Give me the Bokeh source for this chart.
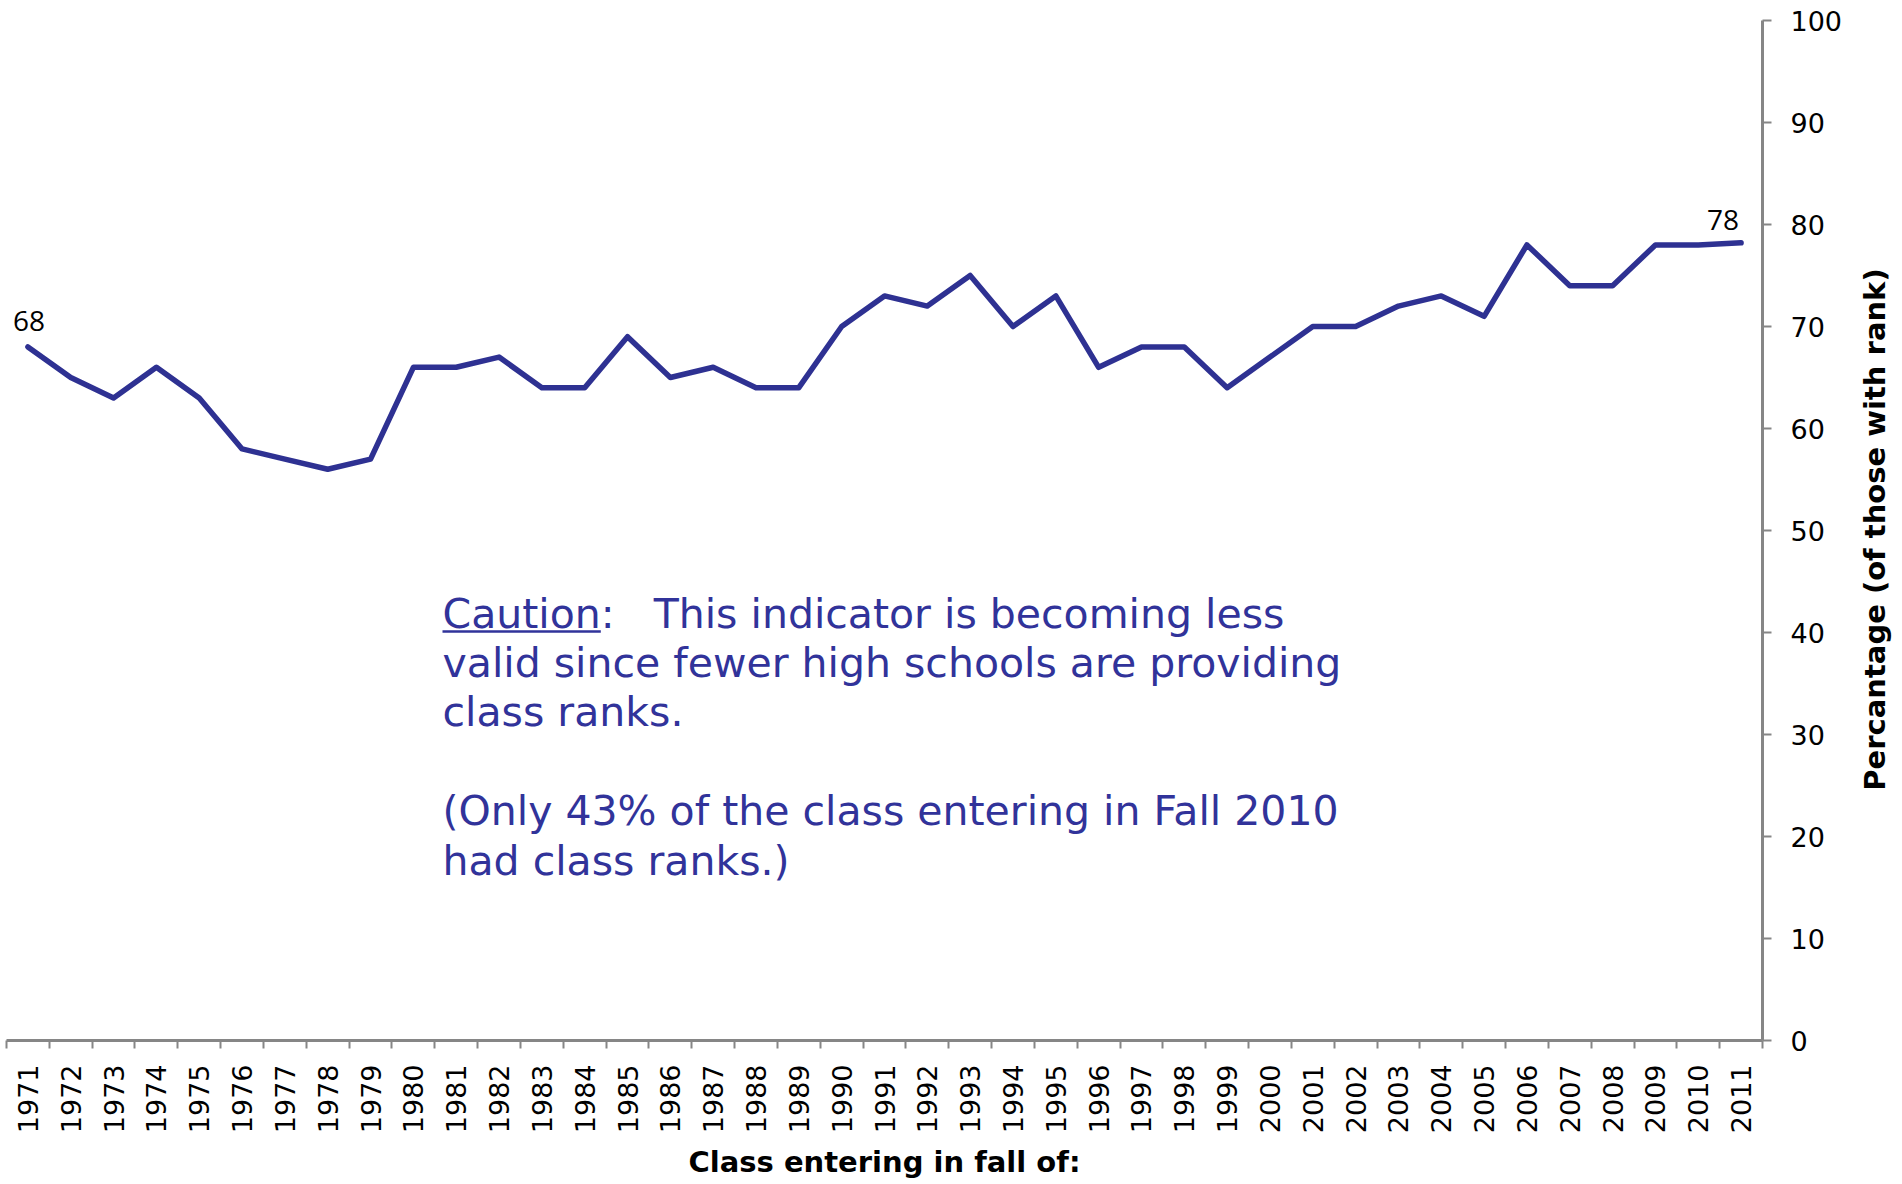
import math
from bokeh.plotting import figure
from bokeh.layouts import row
from bokeh.models import Range1d, FixedTicker, Label, Arrow
from bokeh.core.properties import value
from bokeh.embed import file_html
from bokeh.resources import INLINE

# ---------------- data ----------------
years = list(range(1971, 2012))
pct = [68, 65, 63, 66, 63, 58, 57, 56, 57, 66,
       66, 67, 64, 64, 69, 65, 66, 64, 64, 70,
       73, 72, 75, 70, 73, 66, 68, 68, 64, 67,
       70, 70, 72, 73, 71, 78, 74, 74, 78, 78,
       78.2]
year_labels = [str(y) for y in years]
y_ticks = [0, 10, 20, 30, 40, 50, 60, 70, 80, 90, 100]
x_title = "Class entering in fall of:"
y_title = "Percantage (of those with rank)"
NB = "\u00a0"
caution_lines = [
    "Caution:" + NB * 3 + "This indicator is becoming less",
    "valid since fewer high schools are providing",
    "class ranks.",
    NB,
    "(Only 43% of the class entering in Fall 2010",
    "had class ranks.)",
]

# ---------------- layout ----------------
FRAME_W, FRAME_H = 1756, 1020
B_LEFT, B_TOP, B_RIGHT, B_BOTTOM = 6, 20, 90, 140
TITLE_W = 44
GRAY = "#868686"
BLUE = "#2E3192"
TEXT_BLUE = "#31339A"

x0, x1 = years[0] - 0.5, years[-1] + 0.5
p = figure(frame_width=FRAME_W, frame_height=FRAME_H,
           x_range=Range1d(x0, x1), y_range=Range1d(y_ticks[0], y_ticks[-1]),
           y_axis_location="right",
           output_backend="svg", toolbar_location=None,
           min_border_left=B_LEFT, min_border_top=B_TOP,
           min_border_right=B_RIGHT, min_border_bottom=B_BOTTOM,
           background_fill_color="white", border_fill_color="white")
p.outline_line_color = None
p.xgrid.visible = False
p.ygrid.visible = False

px_per_x = FRAME_W / (x1 - x0)
px_per_y = FRAME_H / (y_ticks[-1] - y_ticks[0])

# x axis: labels at category centres, tick marks between categories
xa = p.xaxis[0]
boundaries = [y - 0.5 for y in years] + [years[-1] + 0.5]
xa.ticker = FixedTicker(ticks=years, minor_ticks=boundaries)
xa.major_label_overrides = {y: lab for y, lab in zip(years, year_labels)}
xa.major_tick_out = 0
xa.major_tick_in = 0
xa.minor_tick_out = 8
xa.minor_tick_in = 0
xa.minor_tick_line_color = GRAY
xa.minor_tick_line_width = 2
xa.axis_line_color = GRAY
xa.axis_line_width = 3
xa.major_label_orientation = math.pi / 2
xa.major_label_text_font = "DejaVu Sans"
xa.major_label_text_font_size = "27px"
xa.major_label_text_color = "black"
xa.major_label_standoff = 16
xa.axis_label = x_title
xa.axis_label_text_font = "DejaVu Sans"
xa.axis_label_text_font_style = "bold"
xa.axis_label_text_font_size = "29px"
xa.axis_label_text_color = "black"
xa.axis_label_standoff = 9

# y axis on the right
ya = p.yaxis[0]
ya.ticker = FixedTicker(ticks=y_ticks)
ya.major_tick_out = 9
ya.major_tick_in = 0
ya.major_tick_line_color = GRAY
ya.major_tick_line_width = 2
ya.minor_tick_line_color = None
ya.axis_line_color = GRAY
ya.axis_line_width = 3
ya.major_label_text_font = "DejaVu Sans"
ya.major_label_text_font_size = "27px"
ya.major_label_text_color = "black"
ya.major_label_standoff = 19

# the series
p.line(years, pct, line_color=BLUE, line_width=5.5, line_join="round", line_cap="round")

# data labels at first and last points
p.add_layout(Label(x=years[0], y=pct[0], text=f"{pct[0]:.0f}",
                   text_font="Open Sans", text_font_size="28px", text_color="black",
                   text_align="center", text_baseline="alphabetic",
                   x_offset=1, y_offset=26))
p.add_layout(Label(x=years[-1], y=pct[-1], text=f"{pct[-1]:.0f}",
                   text_font="Open Sans", text_font_size="28px", text_color="black",
                   text_align="center", text_baseline="alphabetic",
                   x_offset=-18, y_offset=23))

# caution note
CAUTION_FONT = 41
CAUTION_LINE_H = 1.03
CAUTION_LEFT_PX = 436       # from frame left
CAUTION_TOP_PX = 569        # from frame top
cx = x0 + CAUTION_LEFT_PX / px_per_x
cy = y_ticks[-1] - CAUTION_TOP_PX / px_per_y
p.add_layout(Label(x=cx, y=cy, text="\n".join(caution_lines),
                   text_font="DejaVu Sans", text_font_size=f"{CAUTION_FONT}px",
                   text_color=TEXT_BLUE, text_align="left", text_baseline="top",
                   text_line_height=CAUTION_LINE_H))

# underline under the word "Caution" (DejaVu Sans advance ~3.861 em)
ul_w = 3.861 * CAUTION_FONT / px_per_x
ul_y = y_ticks[-1] - (CAUTION_TOP_PX + 42) / px_per_y
p.add_layout(Arrow(end=None, start=None, x_start=cx, y_start=ul_y, x_end=cx + ul_w, y_end=ul_y,
                   line_color=TEXT_BLUE, line_width=2.5))

# y axis title in a narrow companion panel to the right, reading bottom-to-top
pt = figure(width=TITLE_W, height=B_TOP + FRAME_H + B_BOTTOM,
            x_range=Range1d(-1, 1), y_range=Range1d(-1, 1),
            x_axis_location=None, y_axis_location=None,
            output_backend="svg", toolbar_location=None,
            min_border_left=0, min_border_right=0,
            min_border_top=B_TOP, min_border_bottom=B_BOTTOM,
            background_fill_color="white", border_fill_color="white")
pt.outline_line_color = None
pt.grid.visible = False
pt.text(x=[0], y=[0], text=[y_title], angle=math.pi / 2,
        text_font=value("DejaVu Sans"), text_font_style="bold", text_font_size="29px",
        text_color="black", text_align="center", text_baseline="middle")

layout = row(p, pt, spacing=0)
open("out.html", "w").write(file_html(layout, INLINE))
